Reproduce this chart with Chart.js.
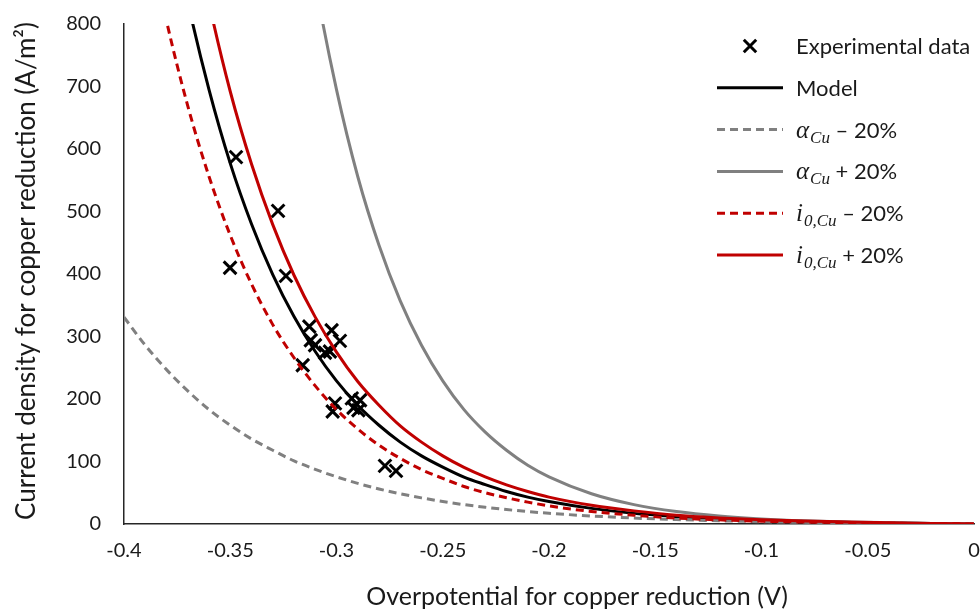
<!DOCTYPE html>
<html>
<head>
<meta charset="utf-8">
<script src="https://cdn.jsdelivr.net/npm/chart.js@4.4.1/dist/chart.umd.min.js"></script>
<style>
  html, body { margin: 0; padding: 0; background: #ffffff; }
  #wrap { width: 980px; height: 610px; position: relative; }
</style>
</head>
<body>
<div id="wrap"><canvas id="c" width="980" height="610"></canvas></div>
<script>
// Overpotential grid (V) for the simulated polarisation curves
const eta = [-0.40, -0.39, -0.38, -0.37, -0.36, -0.35, -0.34, -0.33, -0.32, -0.31,
             -0.30, -0.29, -0.28, -0.27, -0.26, -0.25, -0.24, -0.23, -0.22, -0.21,
             -0.20, -0.18, -0.16, -0.14, -0.12, -0.10, -0.08, -0.06, -0.04, -0.02, 0];

// Current density (A/m2) on that grid
const model      = [null, 1210, 1006, 836, 695, 577, 480, 399, 332, 276,
                    229, 190, 158, 131, 109, 91, 75, 63, 52, 43,
                    36, 25, 17, 12, 8.2, 5.7, 3.9, 2.7, 1.6, 0.8, 0];
const alphaMinus = [331, 286, 247, 213, 183, 158, 136, 118, 101, 87.5,
                    75.5, 65, 56, 48.4, 41.8, 36, 31, 26.8, 23.1, 19.9,
                    17.2, 12.8, 9.5, 7.1, 5.2, 3.7, 2.6, 1.8, 1.1, 0.5, 0];
const alphaPlus  = [null, null, null, null, null, null, null, null, 1083, 867,
                    695, 556, 446, 357, 286, 229, 183, 147, 118, 94,
                    75.5, 48.4, 31, 19.9, 12.8, 8.2, 5.2, 3.3, 2.0, 0.9, 0];
const i0Minus    = [1165, 968, 805, 669, 556, 462, 384, 319, 266, 221,
                    183, 152, 126, 105, 87, 73, 60, 50, 42, 35,
                    29, 20, 14, 9.6, 6.6, 4.5, 3.1, 2.2, 1.3, 0.6, 0];
const i0Plus     = [null, 1452, 1207, 1003, 834, 692, 576, 479, 398, 331,
                    275, 228, 190, 157, 131, 109, 90.5, 75.3, 62.6, 52,
                    43, 30, 21, 14, 9.8, 6.8, 4.7, 3.2, 1.9, 1.0, 0];

// Measured points
const expEta     = [-0.3473, -0.3275, -0.3501, -0.3238, -0.3159, -0.3128, -0.3023, -0.2984,
                    -0.3121, -0.3101, -0.3054, -0.3031, -0.3007, -0.3018, -0.2928, -0.2889,
                    -0.2897, -0.2920, -0.2772, -0.2720];
const expCurrent = [587, 501, 410, 397, 254, 316, 310, 293,
                    294, 286, 274, 276, 193, 180, 201, 198,
                    182, 186, 93, 85];

// Axis ticks
const xTicks = [-0.4, -0.35, -0.3, -0.25, -0.2, -0.15, -0.1, -0.05, 0];
const yTicks = [0, 100, 200, 300, 400, 500, 600, 700, 800];

const xTitle = 'Overpotential for copper reduction (V)';
const yTitle = 'Current density for copper reduction (A/m\u00B2)';

const TEXT = '#1a1a1a';
const GREY = '#808080';
const RED = '#c00000';

const pairs = (xs, ys) => xs.map((x, i) => ({ x: x, y: ys[i] }));

function curve(label, values, color, dash, order, width) {
  return {
    label: label,
    data: pairs(eta, values),
    borderColor: color,
    backgroundColor: color,
    borderWidth: width,
    borderDash: dash,
    pointRadius: 0,
    fill: false,
    spanGaps: false,
    cubicInterpolationMode: 'monotone',
    order: order
  };
}

const datasets = [
  {
    label: 'Experimental data',
    data: pairs(expEta, expCurrent),
    showLine: false,
    pointStyle: 'crossRot',
    pointRadius: 9,
    pointBorderWidth: 3,
    borderColor: '#000000',
    backgroundColor: '#000000',
    order: 6
  },
  curve('Model', model, '#000000', [], 5, 3),
  curve('alphaMinus', alphaMinus, GREY, [8, 5], 4, 3),
  curve('alphaPlus', alphaPlus, GREY, [], 3, 3),
  curve('i0Minus', i0Minus, RED, [8, 5], 2, 3),
  curve('i0Plus', i0Plus, RED, [], 1, 3)
];

// Legend rows: segments are plain text, math italic or subscripts
const legendRows = [
  { ds: 0, parts: [{ t: 'Experimental data' }] },
  { ds: 1, parts: [{ t: 'Model' }] },
  { ds: 2, parts: [{ t: '\u03B1', m: true }, { t: 'Cu', s: true }, { t: ' \u2013 20%' }] },
  { ds: 3, parts: [{ t: '\u03B1', m: true }, { t: 'Cu', s: true }, { t: ' + 20%' }] },
  { ds: 4, parts: [{ t: 'i', m: true }, { t: '0,Cu', s: true }, { t: ' \u2013 20%' }] },
  { ds: 5, parts: [{ t: 'i', m: true }, { t: '0,Cu', s: true }, { t: ' + 20%' }] }
];

const overlay = {
  id: 'overlay',
  afterDraw(chart) {
    const ctx = chart.ctx;
    const area = chart.chartArea;
    ctx.save();

    // axis titles
    ctx.fillStyle = TEXT;
    ctx.textAlign = 'center';
    ctx.textBaseline = 'middle';
    ctx.font = '25px Lato';
    ctx.fillText(xTitle, (area.left + area.right) / 2 + 28, area.bottom + 73);
    ctx.save();
    ctx.font = '26px Lato';
    ctx.translate(area.left - 97, (area.top + area.bottom) / 2 - 3);
    ctx.rotate(-Math.PI / 2);
    ctx.fillText(yTitle, 0, 0);
    ctx.restore();

    // legend
    const swatchL = area.right - 257, swatchR = area.right - 191, textX = area.right - 178;
    const rowTop = area.top + 22, rowGap = 41.8;
    legendRows.forEach((row, k) => {
      const y = rowTop + k * rowGap;
      const ds = chart.data.datasets[row.ds];
      ctx.save();
      if (ds.showLine === false) {
        ctx.strokeStyle = '#000000';
        ctx.lineWidth = 3;
        const r = 6.2, cx = (swatchL + swatchR) / 2;
        ctx.beginPath();
        ctx.moveTo(cx - r, y - r); ctx.lineTo(cx + r, y + r);
        ctx.moveTo(cx - r, y + r); ctx.lineTo(cx + r, y - r);
        ctx.stroke();
      } else {
        ctx.strokeStyle = ds.borderColor;
        ctx.lineWidth = ds.borderWidth;
        ctx.setLineDash(ds.borderDash || []);
        ctx.beginPath();
        ctx.moveTo(swatchL, y); ctx.lineTo(swatchR, y);
        ctx.stroke();
      }
      ctx.restore();

      let x = textX;
      ctx.textAlign = 'left';
      ctx.textBaseline = 'alphabetic';
      ctx.fillStyle = TEXT;
      const base = y + 8;
      row.parts.forEach(p => {
        if (p.m) {
          ctx.font = 'italic 25px "Liberation Serif"';
          ctx.fillText(p.t, x, base);
          x += ctx.measureText(p.t).width + 1;
        } else if (p.s) {
          ctx.font = 'italic 17px "Liberation Serif"';
          ctx.fillText(p.t, x, base + 5);
          x += ctx.measureText(p.t).width;
        } else {
          ctx.font = '22px Lato';
          ctx.fillText(p.t, x, base);
          x += ctx.measureText(p.t).width;
        }
      });
    });
    ctx.restore();
  }
};

new Chart(document.getElementById('c'), {
  type: 'line',
  data: { datasets: datasets },
  plugins: [overlay],
  options: {
    responsive: false,
    animation: false,
    devicePixelRatio: 1,
    layout: { autoPadding: false, padding: { top: 24, right: 6, left: 0, bottom: 0 } },
    plugins: {
      legend: { display: false },
      tooltip: { enabled: false },
      title: { display: false }
    },
    scales: {
      x: {
        type: 'linear',
        min: -0.4,
        max: 0,
        afterBuildTicks: s => { s.ticks = xTicks.map(v => ({ value: v })); },
        afterFit: s => { s.height = 86; s.paddingLeft = 0; s.paddingRight = 0; },
        grid: { display: false, drawTicks: false },
        border: { display: true, color: '#262626', width: 1.5 },
        ticks: {
          padding: 15,
          color: TEXT,
          font: { family: 'Lato', size: 20 },
          maxRotation: 0,
          autoSkip: false,
          callback: v => String(Number(v.toFixed(2)))
        }
      },
      y: {
        type: 'linear',
        min: 0,
        max: 800,
        afterBuildTicks: s => { s.ticks = yTicks.map(v => ({ value: v })); },
        afterFit: s => { s.width = 124; s.paddingTop = 0; s.paddingBottom = 0; },
        grid: { display: false, drawTicks: false },
        border: { display: true, color: '#262626', width: 1.5 },
        ticks: {
          padding: 23,
          color: TEXT,
          font: { family: 'Lato', size: 20 },
          autoSkip: false,
          callback: v => String(v)
        }
      }
    }
  }
});
</script>
</body>
</html>
